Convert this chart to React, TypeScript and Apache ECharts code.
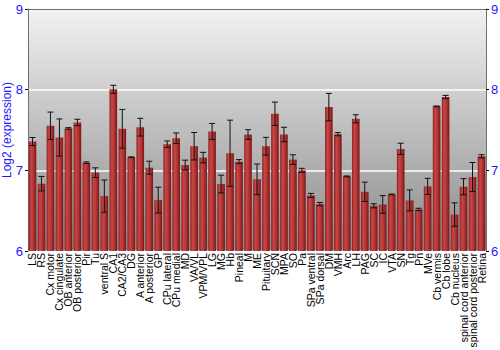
import React, { useEffect, useRef } from "react";
import * as echarts from "echarts";

const categories = [
  "LS", "RS", "Cx motor", "Cx cingulate", "OB anterior", "OB posterior", "Pir", "Tu",
  "ventral S", "CA1", "CA2/CA3", "DG", "A anterior", "A posterior", "GP", "CPu lateral",
  "CPu medial", "MD", "VA/VL", "VPM/VPL", "LG", "MG", "Hb", "Pineal", "M", "ME",
  "Pituitary", "SCN", "MPA", "SO", "Pa", "SPa ventral", "SPa dorsal", "DM", "VMH", "Arc",
  "LH", "PAG", "SC", "IC", "VTA", "SN", "Tg", "Pn", "MVe", "Cb vermis", "Cb lobe",
  "Cb nucleus", "spinal cord anterior", "spinal cord posterior", "Retina",
];

const values = [
  7.357, 6.834, 7.552, 7.407, 7.519, 7.593, 7.095, 6.971,
  6.68, 8.004, 7.515, 7.162, 7.535, 7.033, 6.631, 7.324,
  7.398, 7.066, 7.299, 7.158, 7.481, 6.83, 7.212, 7.108, 7.444, 6.888,
  7.299, 7.701, 7.444, 7.133, 7.0, 6.689, 6.581, 7.784, 7.448, 6.925,
  7.639, 6.734, 6.56, 6.577, 6.701, 7.266, 6.627, 6.515, 6.801, 7.793, 7.909,
  6.452, 6.797, 6.917, 7.174,
];

const errors = [
  0.05, 0.09, 0.17, 0.23, 0.01, 0.04, 0.01, 0.06,
  0.2, 0.05, 0.24, 0.005, 0.11, 0.08, 0.16, 0.04,
  0.065, 0.06, 0.17, 0.065, 0.1, 0.11, 0.41, 0.025, 0.06, 0.19,
  0.11, 0.145, 0.09, 0.06, 0.025, 0.025, 0.02, 0.17, 0.02, 0.005,
  0.05, 0.12, 0.025, 0.11, 0.005, 0.07, 0.13, 0.015, 0.1, 0.005, 0.02,
  0.145, 0.1, 0.18, 0.02,
];

const yTicks = { min: 6, max: 9, interval: 1 };

export default function App() {
  const ref = useRef<HTMLDivElement>(null);
  useEffect(() => {
    if (!ref.current) return;
    document.body.style.margin = "0";
    const chart = echarts.init(ref.current, undefined, { renderer: "svg" });
    const font = "Liberation Sans, Arial, sans-serif";
    const blue = "#1a1aff";
    const errData = values.map((v, i) => [i, v - errors[i], v + errors[i]]);
    chart.setOption({
      animation: false,
      textStyle: { fontFamily: font },
      grid: {
        left: 28,
        right: 14,
        top: 9,
        bottom: 99,
        containLabel: false,
        outerBoundsMode: "none",
        show: true,
        borderWidth: 0,
        backgroundColor: new echarts.graphic.LinearGradient(0, 0, 0, 1, [
          { offset: 0, color: "#f2f2f2" },
          { offset: 1, color: "#8a8a8a" },
        ]),
      },
      xAxis: [
        {
          type: "category",
          data: categories,
          axisLine: { show: false },
          axisTick: { show: false },
          axisLabel: {
            interval: 0,
            rotate: 90,
            fontSize: 10.5,
            color: "#000",
            fontFamily: font,
            margin: 2,
          },
        },
        {
          type: "category",
          position: "top",
          data: categories,
          z: 5,
          axisLine: { show: true, lineStyle: { color: "#707070", width: 1 } },
          axisTick: { show: false },
          axisLabel: { show: false },
        },
      ],
      yAxis: [
        {
          type: "value",
          ...yTicks,
          name: "Log2 (expression)",
          nameLocation: "middle",
          nameGap: 15,
          nameMoveOverlap: false,
          nameTextStyle: { color: blue, fontSize: 12, fontFamily: font },
          axisLine: { show: true, lineStyle: { color: "#707070" } },
          axisTick: { show: true, length: 3, lineStyle: { color: "#000" } },
          axisLabel: { color: blue, fontSize: 13, margin: 5, fontFamily: font },
          splitLine: { show: true, lineStyle: { color: "#ffffff", width: 1.5 } },
        },
        {
          type: "value",
          ...yTicks,
          position: "right",
          axisLine: { show: true, lineStyle: { color: "#707070" } },
          axisTick: { show: true, length: 3, lineStyle: { color: "#000" } },
          axisLabel: { color: blue, fontSize: 13, margin: 5, fontFamily: font },
          splitLine: { show: false },
        },
      ],
      series: [
        {
          type: "bar",
          data: values,
          barCategoryGap: "15%",
          itemStyle: {
            color: new echarts.graphic.LinearGradient(0, 0, 1, 0, [
              { offset: 0, color: "#8a2222" },
              { offset: 0.3, color: "#c94646" },
              { offset: 0.6, color: "#b53535" },
              { offset: 1, color: "#761818" },
            ]),
          },
        },
        {
          type: "custom",
          data: errData,
          z: 10,
          renderItem: (params: any, api: any) => {
            const x = api.value(0);
            const lo = api.coord([x, api.value(1)]);
            const hi = api.coord([x, api.value(2)]);
            const w = 3;
            const style = { stroke: "#111", lineWidth: 1 };
            return {
              type: "group",
              children: [
                { type: "line", shape: { x1: lo[0], y1: lo[1], x2: hi[0], y2: hi[1] }, style },
                { type: "line", shape: { x1: lo[0] - w, y1: lo[1], x2: lo[0] + w, y2: lo[1] }, style },
                { type: "line", shape: { x1: hi[0] - w, y1: hi[1], x2: hi[0] + w, y2: hi[1] }, style },
              ],
            };
          },
        },
      ],
    });
    return () => chart.dispose();
  }, []);
  return <div ref={ref} style={{ width: 500, height: 350 }} />;
}
